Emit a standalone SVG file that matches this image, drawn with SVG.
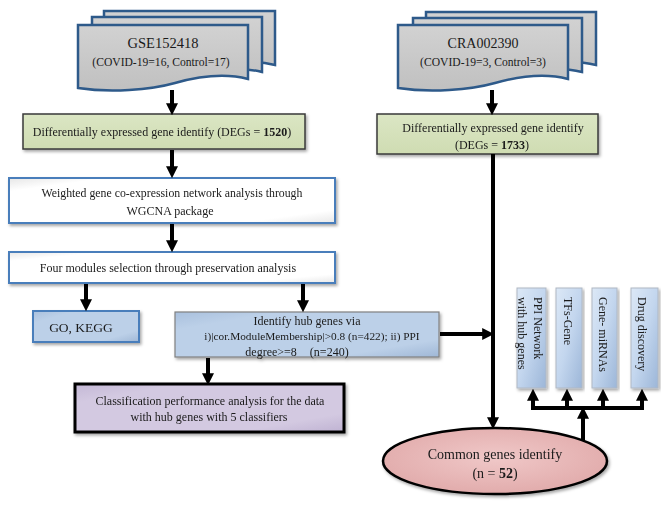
<svg xmlns="http://www.w3.org/2000/svg" width="666" height="507" viewBox="0 0 666 507">
<style>
text{font-family:"Liberation Serif","Times New Roman",serif;fill:#1a1a1a;text-anchor:middle;font-size:12px}
.vt{text-anchor:start}
.doc{fill:url(#gDoc);stroke:#2e5a8a;stroke-width:2.5}
.green{fill:url(#gGreen);stroke:#3a3a3a;stroke-width:1.5}
.wht{fill:url(#gWhite);stroke:#4a7ebb;stroke-width:2}
.blue{fill:url(#gBlue);stroke:#4a7ebb;stroke-width:2}
.hub{fill:url(#gBlue);stroke:#808080;stroke-width:1.2}
.purp{fill:url(#gPurp);stroke:#000;stroke-width:3}
.vbox{fill:url(#gV);stroke:#b0b8c4;stroke-width:1}
.con{stroke:#000;stroke-width:4;fill:none}
.arr{marker-end:url(#ah)}
</style>
<defs>
<marker id="ah" markerUnits="userSpaceOnUse" markerWidth="12" markerHeight="12" viewBox="0 0 10 10" refX="4" refY="5" orient="auto"><path d="M0,0 L10,5 L0,10 z" fill="#000"/></marker>
<linearGradient id="gDoc" x1="0" y1="0" x2="0" y2="1"><stop offset="0" stop-color="#d2d2d2"/><stop offset="1" stop-color="#c0c0c0"/></linearGradient>
<linearGradient id="gGreen" x1="0" y1="0" x2="0" y2="1"><stop offset="0" stop-color="#dbe6c4"/><stop offset="1" stop-color="#cfdcb2"/></linearGradient>
<linearGradient id="gWhite" x1="0" y1="0" x2="1" y2="1"><stop offset="0" stop-color="#e6e6e6"/><stop offset="0.15" stop-color="#ffffff"/><stop offset="0.85" stop-color="#ffffff"/><stop offset="1" stop-color="#e8e8e8"/></linearGradient>
<linearGradient id="gBlue" x1="0" y1="0" x2="1" y2="1"><stop offset="0" stop-color="#a9c0dd"/><stop offset="0.2" stop-color="#bcd0e8"/><stop offset="0.8" stop-color="#bcd0e8"/><stop offset="1" stop-color="#9fb7d6"/></linearGradient>
<linearGradient id="gPurp" x1="0" y1="0" x2="1" y2="1"><stop offset="0" stop-color="#c4b8d6"/><stop offset="0.2" stop-color="#d3c9e1"/><stop offset="0.8" stop-color="#d3c9e1"/><stop offset="1" stop-color="#bfb2d2"/></linearGradient>
<linearGradient id="gV" x1="0" y1="0" x2="1" y2="1"><stop offset="0" stop-color="#dce8f6"/><stop offset="0.5" stop-color="#c3d6ee"/><stop offset="1" stop-color="#9cb6d8"/></linearGradient>
<radialGradient id="gEll" cx="0.5" cy="0.45" r="0.6"><stop offset="0" stop-color="#f0c8c8"/><stop offset="1" stop-color="#e0a9a9"/></radialGradient>
<filter id="sh" x="-10%" y="-20%" width="120%" height="150%"><feDropShadow dx="1.5" dy="2" stdDeviation="1.8" flood-color="#000" flood-opacity="0.35"/></filter>
</defs>
<rect width="666" height="507" fill="#fff"/>

<g id="doc-left">
<path class="doc" d="M104,11 H275 V65 C252,59 227,62 201,69 C176,76 136,79 104,74 Z"/>
<path class="doc" d="M92,17 H262 V72 C239,66 214,69 188,76 C163,83 123,86 92,81 Z"/>
<path class="doc" d="M78,25 H248 V79 C225,73 200,76 175,83 C150,90 110,93 78,88 Z"/>
<text x="163" y="48" style="font-size:14.5px">GSE152418</text>
<text x="161" y="66" style="font-size:11.6px">(COVID-19=16, Control=17)</text>
</g>

<g id="doc-right">
<path class="doc" d="M426,12 H596 V65 C573,59 548,62 522,69 C497,76 457,79 426,74 Z"/>
<path class="doc" d="M413,18 H582 V72 C559,66 534,69 508,76 C483,83 443,86 413,81 Z"/>
<path class="doc" d="M398,25 H568 V79 C545,73 520,76 495,83 C470,90 430,93 398,88 Z"/>
<text x="483" y="48" style="font-size:14px">CRA002390</text>
<text x="483" y="66" style="font-size:11.6px">(COVID-19=3, Control=3)</text>
</g>

<g id="deg-left" filter="url(#sh)">
<rect class="green" x="23" y="114" width="282" height="35"/>
<text x="162" y="136">Differentially expressed gene identify (DEGs = <tspan font-weight="bold">1520</tspan>)</text>
</g>

<g id="deg-right" filter="url(#sh)">
<rect class="green" x="377" y="114" width="221" height="40"/>
<text x="493" y="132">Differentially expressed gene identify</text>
<text x="492" y="149">(DEGs = <tspan font-weight="bold">1733</tspan>)</text>
</g>

<g id="wgcna" filter="url(#sh)">
<rect class="wht" x="9" y="178" width="326" height="45"/>
<text x="172" y="197" style="font-size:11.8px">Weighted gene co-expression network analysis through</text>
<text x="170" y="215">WGCNA package</text>
</g>

<g id="modules" filter="url(#sh)">
<rect class="wht" x="9" y="252" width="326" height="31"/>
<text x="168" y="272">Four modules selection through preservation analysis</text>
</g>

<g id="gokegg" filter="url(#sh)">
<rect class="blue" x="33" y="311" width="106" height="31"/>
<text x="81" y="332" style="font-size:13.5px">GO, KEGG</text>
</g>

<g id="hub" filter="url(#sh)">
<rect class="hub" x="175" y="312" width="264" height="45"/>
<text x="307" y="325">Identify hub genes via</text>
<text x="312" y="340" style="font-size:11.3px">i)|cor.ModuleMembership|&gt;0.8 (n=422); ii) PPI</text>
<text x="297" y="356" style="word-spacing:10px">degree&gt;=8 (n=240)</text>
</g>

<g id="classif" filter="url(#sh)">
<rect class="purp" x="75" y="384" width="269" height="48"/>
<text x="210" y="405">Classification performance analysis for the data</text>
<text x="209" y="421">with hub genes with 5 classifiers</text>
</g>

<g id="common" filter="url(#sh)">
<ellipse cx="495" cy="461" rx="112" ry="33" fill="url(#gEll)" stroke="#000" stroke-width="2.5"/>
<text x="495" y="459" style="font-size:14px">Common genes identify</text>
<text x="495" y="478" style="font-size:14px">(n = <tspan font-weight="bold">52</tspan>)</text>
</g>

<g id="ppi" filter="url(#sh)">
<rect class="vbox" x="517" y="288" width="29" height="100"/>
<text class="vt" transform="translate(534,297) rotate(90)">PPI Network</text>
<text class="vt" transform="translate(518,297) rotate(90)">with hub genes</text>
</g>
<g id="tfs" filter="url(#sh)">
<rect class="vbox" x="556" y="288" width="26" height="100"/>
<text class="vt" transform="translate(564,297) rotate(90)">TFs-Gene</text>
</g>
<g id="mirna" filter="url(#sh)">
<rect class="vbox" x="592" y="288" width="25" height="100"/>
<text class="vt" transform="translate(599,297) rotate(90)">Gene- miRNAs</text>
</g>
<g id="drug" filter="url(#sh)">
<rect class="vbox" x="631" y="288" width="27" height="100"/>
<text class="vt" transform="translate(638,297) rotate(90)">Drug discovery</text>
</g>

<g id="connectors">
<line class="con arr" x1="172" y1="90" x2="172" y2="108"/>
<line class="con arr" x1="172" y1="150" x2="172" y2="171"/>
<line class="con arr" x1="172" y1="224" x2="172" y2="245"/>
<line class="con arr" x1="86" y1="284" x2="86" y2="304"/>
<line class="con arr" x1="303" y1="284" x2="303" y2="305"/>
<line class="con arr" x1="208" y1="358" x2="208" y2="378"/>
<line class="con arr" x1="440" y1="334" x2="487" y2="334"/>
<line class="con arr" x1="492" y1="90" x2="492" y2="108"/>
<line class="con arr" x1="493" y1="154" x2="493" y2="422"/>
<line class="con arr" x1="583" y1="441" x2="583" y2="414"/>
<line class="con" x1="531" y1="408" x2="644" y2="408"/>
<line class="con arr" x1="533" y1="410" x2="533" y2="396"/>
<line class="con arr" x1="567" y1="410" x2="567" y2="396"/>
<line class="con arr" x1="603" y1="410" x2="603" y2="396"/>
<line class="con arr" x1="642" y1="410" x2="642" y2="396"/>
</g>
</svg>
